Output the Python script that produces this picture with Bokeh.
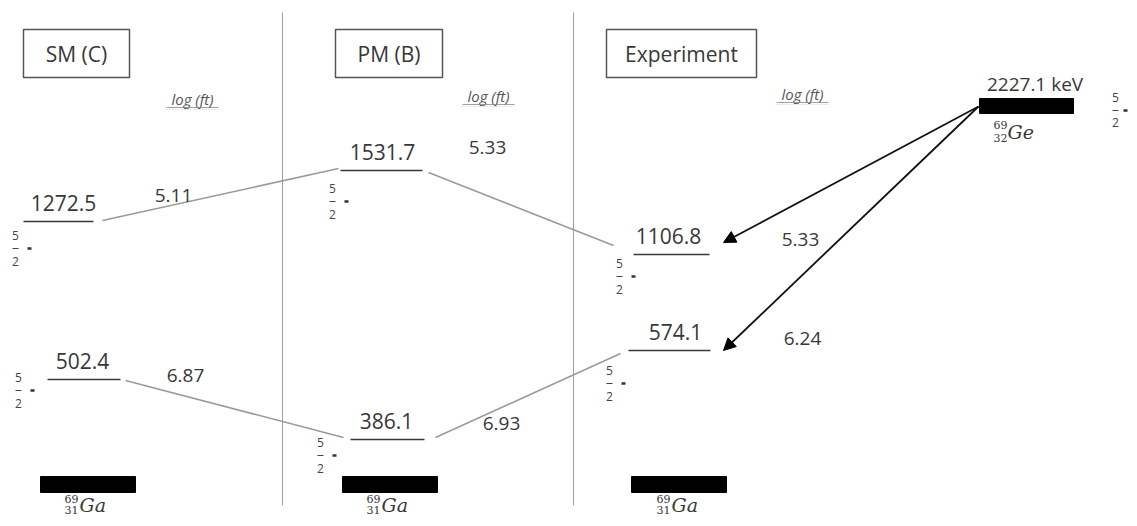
from bokeh.plotting import figure
from bokeh.models import Range1d, Arrow, NormalHead
from bokeh.core.properties import value
from bokeh.embed import file_html
from bokeh.resources import INLINE

# ---------------- data ----------------
model_names = ["SM (C)", "PM (B)", "Experiment"]
sm_levels = [1272.5, 502.4]
pm_levels = [1531.7, 386.1]
exp_levels = [1106.8, 574.1]
parent_level = 2227.1
sm_logft = [5.11, 6.87]
pm_logft = [5.33, 6.93]
exp_logft = [5.33, 6.24]
spin_num = "5"
spin_den = "2"
daughter = ("69", "31", "Ga")
parent = ("69", "32", "Ge")
logft_label = "log (ft)"

# ---------------- layout (schematic drawing coordinates) ----------------
col_x = [(23, 93), (340, 422), (633, 709)]          # level x extents (high level)
col_x_low = [(47, 120), (350, 424), (628, 710)]     # level x extents (low level)
lvl_y = [(221, 379), (170, 439), (254, 350)]
lbl_dx = [(63, 82), (382, 386), (668, 675)]
spin_xy = [((15, 235), (18, 377)), ((332, 188), (320, 442)), ((619, 263), (609, 370))]
box_x = [(23, 129), (335, 442), (606, 756)]
logft_xy = [(192, 98), (488, 95), (802, 93)]
gs_x = [(40, 135), (342, 437), (631, 726)]
gs_lbl_x = [88, 390, 680]

FONT = value("Open Sans")
SERIF = value("DejaVu Serif")
DARK = "#383838"
GREY = "#9a9a9a"

p = figure(width=1129, height=518, output_backend="svg", toolbar_location=None,
           x_range=Range1d(0, 1129), y_range=Range1d(518, 0), min_border=0)
p.axis.visible = False
p.grid.visible = False
p.outline_line_color = None
p.background_fill_color = "white"
p.border_fill_color = "white"

# separators
p.segment(x0=[282, 573], y0=[12, 12], x1=[282, 573], y1=[505, 505], line_color="#a0a0a0", line_width=1)

# title boxes
p.quad(left=[b[0] for b in box_x], right=[b[1] for b in box_x], top=[29] * 3, bottom=[77] * 3,
       fill_color=None, line_color="#555555", line_width=1.5)
p.text(x=[(b[0] + b[1]) / 2 for b in box_x], y=[53] * 3, text=model_names, text_font=FONT,
       text_font_size="21px", text_align="center", text_baseline="middle", text_color=DARK)

# log(ft) labels
p.text(x=[a[0] for a in logft_xy], y=[a[1] for a in logft_xy], text=[logft_label] * 3, text_font=FONT,
       text_font_size="15px", text_font_style="italic", text_align="center", text_baseline="middle",
       text_color="#555555")
p.segment(x0=[a[0] - 26 for a in logft_xy], y0=[a[1] + 9 for a in logft_xy],
          x1=[a[0] + 26 for a in logft_xy], y1=[a[1] + 9 for a in logft_xy], line_color="#888888", line_width=0.8)
p.segment(x0=[a[0] - 26 for a in logft_xy], y0=[a[1] + 11 for a in logft_xy],
          x1=[a[0] + 26 for a in logft_xy], y1=[a[1] + 11 for a in logft_xy], line_color="#e07070",
          line_width=0.8, line_dash="1 2", line_alpha=0.6)

# levels
all_levels = [sm_levels, pm_levels, exp_levels]
for i, lv in enumerate(all_levels):
    hy, ly = lvl_y[i]
    p.segment(x0=[col_x[i][0], col_x_low[i][0]], y0=[hy, ly], x1=[col_x[i][1], col_x_low[i][1]], y1=[hy, ly],
              line_color=DARK, line_width=1.5)
    p.text(x=[lbl_dx[i][0], lbl_dx[i][1]], y=[hy - 19, ly - 19], text=[f"{e:.1f}" for e in lv],
           text_font=FONT, text_font_size="21px", text_align="center", text_baseline="middle", text_color=DARK)
    # spin labels
    for (sx, sy) in spin_xy[i]:
        p.text(x=[sx, sx], y=[sy, sy + 26], text=[spin_num, spin_den], text_font=FONT, text_font_size="12px",
               text_align="center", text_baseline="middle", text_color="#444444")
        p.segment(x0=[sx - 3], y0=[sy + 13], x1=[sx + 3], y1=[sy + 13], line_color="#444444", line_width=1)
        p.segment(x0=[sx + 12], y0=[sy + 13], x1=[sx + 16], y1=[sy + 13], line_color="#333333", line_width=2.5)
    # ground state bars
    p.quad(left=[gs_x[i][0]], right=[gs_x[i][1]], top=[476], bottom=[492], fill_color="black", line_color="black")
    gx = gs_lbl_x[i]
    p.text(x=[gx - 17, gx - 17], y=[498, 509], text=[daughter[0], daughter[1]], text_font=SERIF,
           text_font_size="11px", text_align="center", text_baseline="middle", text_color=DARK)
    p.text(x=[gx - 9], y=[504], text=[daughter[2]], text_font=SERIF, text_font_size="19px",
           text_font_style="italic", text_align="left", text_baseline="middle", text_color=DARK)

# connectors between models
p.segment(x0=[102, 428, 125, 435], y0=[220, 172, 380, 437], x1=[338, 613, 343, 620], y1=[168, 245, 437, 353],
          line_color=GREY, line_width=1.5)

# log(ft) values
p.text(x=[173, 185, 487, 501, 800, 802], y=[195, 375, 147, 423, 239, 338],
       text=[f"{v:.2f}" for v in [sm_logft[0], sm_logft[1], pm_logft[0], pm_logft[1], exp_logft[0], exp_logft[1]]],
       text_font=FONT, text_font_size="19px", text_align="center", text_baseline="middle", text_color=DARK)

# parent
p.quad(left=[979], right=[1073], top=[98], bottom=[113], fill_color="black", line_color="black")
p.text(x=[1037], y=[83], text=[f"{parent_level:.1f}  keV"], text_font=FONT, text_font_size="19px",
       text_align="center", text_baseline="middle", text_color=DARK)
p.text(x=[1000, 1000], y=[124, 137], text=[parent[0], parent[1]], text_font=SERIF, text_font_size="11px",
       text_align="center", text_baseline="middle", text_color=DARK)
p.text(x=[1007], y=[131], text=[parent[2]], text_font=SERIF, text_font_size="19px", text_font_style="italic",
       text_align="left", text_baseline="middle", text_color=DARK)
p.text(x=[1115, 1115], y=[97, 122], text=[spin_num, spin_den], text_font=FONT, text_font_size="12px",
       text_align="center", text_baseline="middle", text_color="#444444")
p.segment(x0=[1112], y0=[110], x1=[1118], y1=[110], line_color="#444444", line_width=1)
p.segment(x0=[1123], y0=[110], x1=[1127], y1=[110], line_color="#333333", line_width=2.5)

# decay arrows
for (ex, ey) in [(723, 242), (723, 350)]:
    p.add_layout(Arrow(end=NormalHead(size=12, fill_color="black", line_color="black"),
                       x_start=978, y_start=106, x_end=ex, y_end=ey, line_color="#111111", line_width=1.8))

open("out.html", "w").write(file_html(p, INLINE))
